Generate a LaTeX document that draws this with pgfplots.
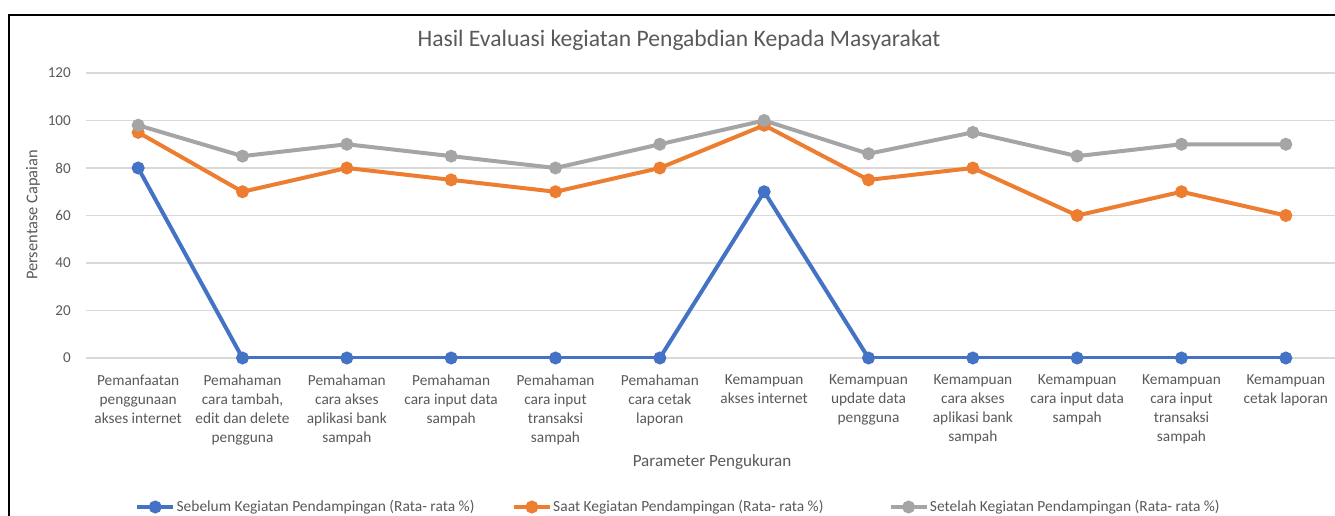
\documentclass[border=0pt]{standalone}
\usepackage{fontspec}
\setmainfont{Carlito}
\usepackage{pgfplots}
\pgfplotsset{compat=1.18}
\definecolor{txt}{HTML}{595959}
\definecolor{gridc}{HTML}{D9D9D9}
\definecolor{sblue}{HTML}{4472C4}
\definecolor{sorange}{HTML}{ED7D31}
\definecolor{sgray}{HTML}{A5A5A5}
\begin{document}
\begin{tikzpicture}
\path[use as bounding box] (-64.5pt,-117.75pt) rectangle (936.75pt,268.5pt);
\begin{axis}[
  at={(0,0)}, anchor=south west,
  scale only axis,
  width=939pt, height=213.75pt,
  xmin=0.5, xmax=12.5,
  ymin=0, ymax=120,
  ytick={0,20,...,120},
  xtick={1,...,12},
  xticklabels={
    {Pemanfaatan\\penggunaan\\akses internet},
    {Pemahaman\\cara tambah,\\edit dan delete\\pengguna},
    {Pemahaman\\cara akses\\aplikasi bank\\sampah},
    {Pemahaman\\cara input data\\sampah},
    {Pemahaman\\cara input\\transaksi\\sampah},
    {Pemahaman\\cara cetak\\laporan},
    {Kemampuan\\akses internet},
    {Kemampuan\\update data\\pengguna},
    {Kemampuan\\cara akses\\aplikasi bank\\sampah},
    {Kemampuan\\cara input data\\sampah},
    {Kemampuan\\cara input\\transaksi\\sampah},
    {Kemampuan\\cetak laporan}},
  axis line style={draw=none},
  tick style={draw=none},
  ymajorgrids,
  grid style={gridc, line width=1.1pt},
  /pgf/number format/assume math mode=true,
  yticklabel style={font=\fontsize{11.3}{13}\selectfont, text=txt, inner sep=0pt, anchor=east, xshift=-11.25pt},
  xticklabel style={font=\fontsize{11.5}{14.25}\selectfont, text=txt, align=center, inner sep=0pt, anchor=north, yshift=-12.25pt},
  xlabel={Parameter Pengukuran},
  xlabel style={at={(axis description cs:0.5,-0.3649)}, anchor=center, font=\fontsize{12.8}{14}\selectfont, text=txt},
  ylabel={Persentase Capaian},
  ylabel style={at={(axis description cs:-0.04233,0.50175)}, anchor=center, font=\fontsize{12.3}{14}\selectfont, text=txt},
  title={Hasil Evaluasi kegiatan Pengabdian Kepada Masyarakat},
  title style={at={(axis description cs:0.47364,1.0877)}, anchor=center, font=\fontsize{17.7}{20}\selectfont, text=txt},
  legend columns=3,
  legend style={at={(axis description cs:0.03913,-0.5228)}, anchor=west, draw=none, fill=none, inner sep=0pt,
    font=\fontsize{11.6}{13}\selectfont, text=txt, nodes={inner sep=1pt},
    /tikz/every even column/.append style={column sep=0pt}},
  legend cell align=left,
  legend image code/.code={\draw[#1, mark repeat=2, mark phase=2] plot coordinates {(0pt,0pt)(13.5pt,0pt)(27pt,0pt)};},
  every axis plot/.append style={line width=3pt, mark=*, mark size=3.3pt, mark options={solid}},
]
\addplot[sblue, mark options={fill=sblue, draw=sblue}] coordinates {
  (1,80) (2,0) (3,0) (4,0) (5,0) (6,0) (7,70) (8,0) (9,0) (10,0) (11,0) (12,0)};
\addlegendentry{\makebox[250.5pt][l]{Sebelum Kegiatan Pendampingan (Rata- rata \%)}}
\addplot[sorange, mark options={fill=sorange, draw=sorange}] coordinates {
  (1,95) (2,70) (3,80) (4,75) (5,70) (6,80) (7,98) (8,75) (9,80) (10,60) (11,70) (12,60)};
\addlegendentry{\makebox[250.5pt][l]{Saat Kegiatan Pendampingan (Rata- rata \%)}}
\addplot[sgray, mark options={fill=sgray, draw=sgray}] coordinates {
  (1,98) (2,85) (3,90) (4,85) (5,80) (6,90) (7,100) (8,86) (9,95) (10,85) (11,90) (12,90)};
\addlegendentry{Setelah Kegiatan Pendampingan (Rata- rata \%)}
\end{axis}
\draw[line width=1.4pt] (-57.75pt,-125pt) -- (-57.75pt,257.25pt) -- (945pt,257.25pt);
\end{tikzpicture}
\end{document}
